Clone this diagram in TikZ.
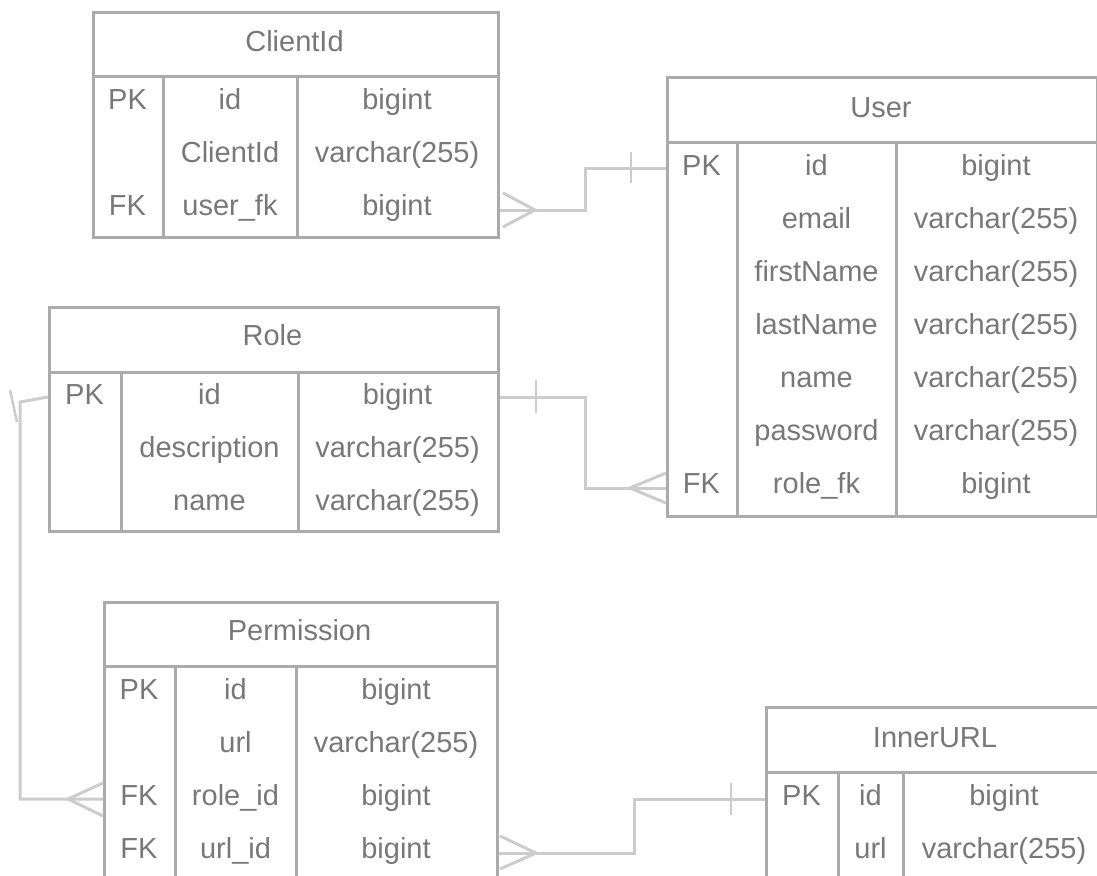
\documentclass[tikz,border=0pt]{standalone}
\usepackage{fontspec}
\setmainfont{Liberation Sans}
\definecolor{tableline}{HTML}{ABABAB}
\definecolor{celltext}{HTML}{787878}
\definecolor{relline}{HTML}{CCCCCC}

\begin{document}
\begin{tikzpicture}[x=1pt,y=-1pt,
 frame/.style={draw=tableline,line width=3pt,anchor=north west,inner sep=0pt},
 cell/.style={text=celltext,font=\fontsize{29}{34}\selectfont,inner sep=0pt,anchor=base},
 rel/.style={draw=relline,line width=3pt},
 bar/.style={draw=relline,line width=2.5pt}]

  \useasboundingbox (0,0) rectangle (1097,875);
  \clip (0,0) rectangle (1097,875);

  % tables
  \node[frame,minimum width=405,minimum height=225] (clientid) at (92,11) {};
  \node[frame,minimum width=430,minimum height=439] (user) at (666,76) {};
  \node[frame,minimum width=449,minimum height=224] (role) at (48,306) {};
  \node[frame,minimum width=393,minimum height=300] (permission) at (103,601) {};
  \node[frame,minimum width=340,minimum height=200] (innerurl) at (765,706) {};

  % header and column lines
  \foreach \l/\r/\h/\a/\b/\bot in {92/497/76/163/297/236, 666/1096/142/737/896/515,
      48/497/372/121/298/530, 103/496/666/175/296/900, 765/1105/772/838/903/900} {
   \draw[tableline,line width=3pt] (\l,\h) -- (\r,\h);
   \draw[tableline,line width=3pt] (\a,\h) -- (\a,\bot) (\b,\h) -- (\b,\bot);}

  % titles
  \node[cell] (clientid-title) at (294.5,52) {ClientId};
  \node[cell] (user-title) at (881,117) {User};
  \node[cell] (role-title) at (272.5,345) {Role};
  \node[cell] (permission-title) at (299.5,640) {Permission};
  \node[cell] (innerurl-title) at (935,747) {InnerURL};

  % rows
  \foreach \y/\k/\n/\t in {99/PK/id/bigint, 152//ClientId/varchar(255), 205/FK/user\_fk/bigint} {
   \node[cell] at (127.5,\y+10) {\k};
   \node[cell] at (230,\y+10) {\n};
   \node[cell] at (397,\y+10) {\t};}
  \foreach \y/\k/\n/\t in {165/PK/id/bigint, 218//email/varchar(255), 271//firstName/varchar(255),
      324//lastName/varchar(255), 377//name/varchar(255), 430//password/varchar(255),
      483/FK/role\_fk/bigint} {
   \node[cell] at (701.5,\y+10) {\k};
   \node[cell] at (816.5,\y+10) {\n};
   \node[cell] at (996,\y+10) {\t};}
  \foreach \y/\k/\n/\t in {394/PK/id/bigint, 447//description/varchar(255), 500//name/varchar(255)} {
   \node[cell] at (84.5,\y+10) {\k};
   \node[cell] at (209.5,\y+10) {\n};
   \node[cell] at (397.5,\y+10) {\t};}
  \foreach \y/\k/\n/\t in {689/PK/id/bigint, 742//url/varchar(255), 795/FK/role\_id/bigint,
      848/FK/url\_id/bigint} {
   \node[cell] at (139,\y+10) {\k};
   \node[cell] at (235.5,\y+10) {\n};
   \node[cell] at (396,\y+10) {\t};}
  \foreach \y/\k/\n/\t in {795/PK/id/bigint, 848//url/varchar(255)} {
   \node[cell] at (801.5,\y+10) {\k};
   \node[cell] at (870.5,\y+10) {\n};
   \node[cell] at (1004,\y+10) {\t};}

  % connector ends
  \coordinate (cid-fk) at (clientid.east |- 0,210);
  \coordinate (user-pk) at (user.west |- 0,168);
  \coordinate (user-fk) at (user.west |- 0,488);
  \coordinate (role-pk) at (role.east |- 0,397);
  \coordinate (role-pkw) at (role.west |- 0,397);
  \coordinate (perm-role) at (permission.west |- 0,799);
  \coordinate (perm-url) at (permission.east |- 0,853);
  \coordinate (inner-pk) at (innerurl.west |- 0,799);

  % relations
  \draw[rel] (cid-fk) -- ++(85,0) |- (user-pk);
  \draw[rel] (cid-fk) ++(3,-17) -- ++(32,17) -- ++(-32,17);
  \draw[bar] (user-pk) ++(-35,-16) -- ++(0,31);

  \draw[rel] (role-pk) -- ++(85,0) |- (user-fk);
  \draw[bar] (role-pk) ++(36,-17) -- ++(0,33);
  \draw[rel] (user-fk) ++(0,-15) -- ++(-36,15) -- ++(36,15);

  \draw[rel] (role-pkw) -- ++(-28,5) |- (perm-role);
  \draw[bar] (role-pkw) ++(-38,-7) -- ++(7,32);
  \draw[rel] (perm-role) ++(0,-16) -- ++(-35,16) -- ++(35,17);

  \draw[rel] (perm-url) -- ++(135,0) |- (inner-pk);
  \draw[rel] (perm-url) ++(1,-17) -- ++(36,17) -- ++(-36,16);
  \draw[bar] (inner-pk) ++(-34,-16) -- ++(0,32);
\end{tikzpicture}
\end{document}
